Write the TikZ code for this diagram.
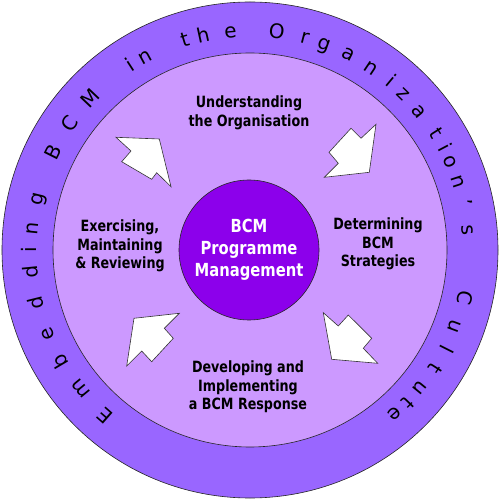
\documentclass[tikz,border=0pt]{standalone}
\usepackage{fontspec}
\setmainfont{DejaVu Sans}
\newfontfamily\stagefont[FakeStretch=0.82]{DejaVu Sans}

\definecolor{ringpurple}{RGB}{153,102,255}
\definecolor{discpurple}{RGB}{204,153,255}
\definecolor{corepurple}{RGB}{140,0,235}

\tikzset{
    stage/.style={align=center,inner sep=0pt,font=\stagefont\bfseries\fontsize{15.5}{18.5}\selectfont},
    core/.style={align=center,inner sep=0pt,text=white,font=\stagefont\bfseries\fontsize{18}{22}\selectfont},
    ringchar/.style={anchor=base,inner sep=0pt,font=\fontsize{20}{20}\selectfont},
    flow/.style={draw=black!80,fill=white,line width=0.6pt,line join=miter},
    rim/.style={draw=black!85,line width=0.6pt}
}

\begin{document}
\begin{tikzpicture}[x=1pt,y=1pt]
    \useasboundingbox (-250,-250) rectangle (250,250);
    \draw[rim,fill=ringpurple] (0,0) circle (248pt);
    \draw[rim,fill=discpurple] (0,0) circle (197pt);
    \node[rim,circle,fill=corepurple,minimum size=140pt,inner sep=0pt] (hub) at (-1,0) {};

    \node[core] (prog) at (hub) {BCM\\Programme\\Management};
    \node[stage] (und) at (-1,137) {Understanding\\the Organisation};
    \node[stage] (det) at (128,6) {Determining\\BCM\\Strategies};
    \node[stage] (dev) at (-2,-137) {Developing and\\Implementing\\a BCM Response};
    \node[stage] (exe) at (-130,4) {Exercising,\\Maintaining\\\& Reviewing};

    \filldraw[flow] (-134,112.7) -- (-90.7,111) -- (-79,63.3) -- (-93.3,77.3)
        -- (-98.3,70.7) -- (-128.3,88.3) -- (-119,99) -- cycle;
    \filldraw[flow] (126,125.7) -- (119.3,77.7) -- (74.3,72.7) -- (88.3,86.7)
        -- (79,97.7) -- (101,121.7) -- (111,111.7) -- cycle;
    \filldraw[flow] (81.7,-109.3) -- (127.7,-113.3) -- (113.3,-98.3) -- (121.7,-88.3)
        -- (98.3,-65) -- (88.3,-76) -- (73.3,-62.7) -- cycle;
    \filldraw[flow] (-116,-68.3) -- (-70.7,-63.3) -- (-85.7,-78.3) -- (-76.7,-88.3)
        -- (-98.3,-111.7) -- (-108.3,-101) -- (-123.3,-116) -- cycle;

    \foreach \ch/\ang [count=\k] in {E/228.7, m/219.5, b/210.5, e/202.5, d/194, d/185.8,
        i/180, n/174.3, g/166.4, B/153.5, C/144.9, M/136.5, i/123, n/118.5, t/107,
        h/102.3, e/95.1, O/83, r/75.5, g/70.2, a/63.3, n/56.3, i/50.2, z/45.6, a/39.4,
        t/32.1, i/27.8, o/23.7, n/18.1, '/12.4, s/5.3, C/-12.6, u/-20.4, l/-26.7,
        t/-32.7, u/-39.2, t/-44.1, e/-48.7}
        \node[ringchar,rotate=\ang-90] (ch\k) at (\ang:213pt) {\ch};
\end{tikzpicture}
\end{document}
